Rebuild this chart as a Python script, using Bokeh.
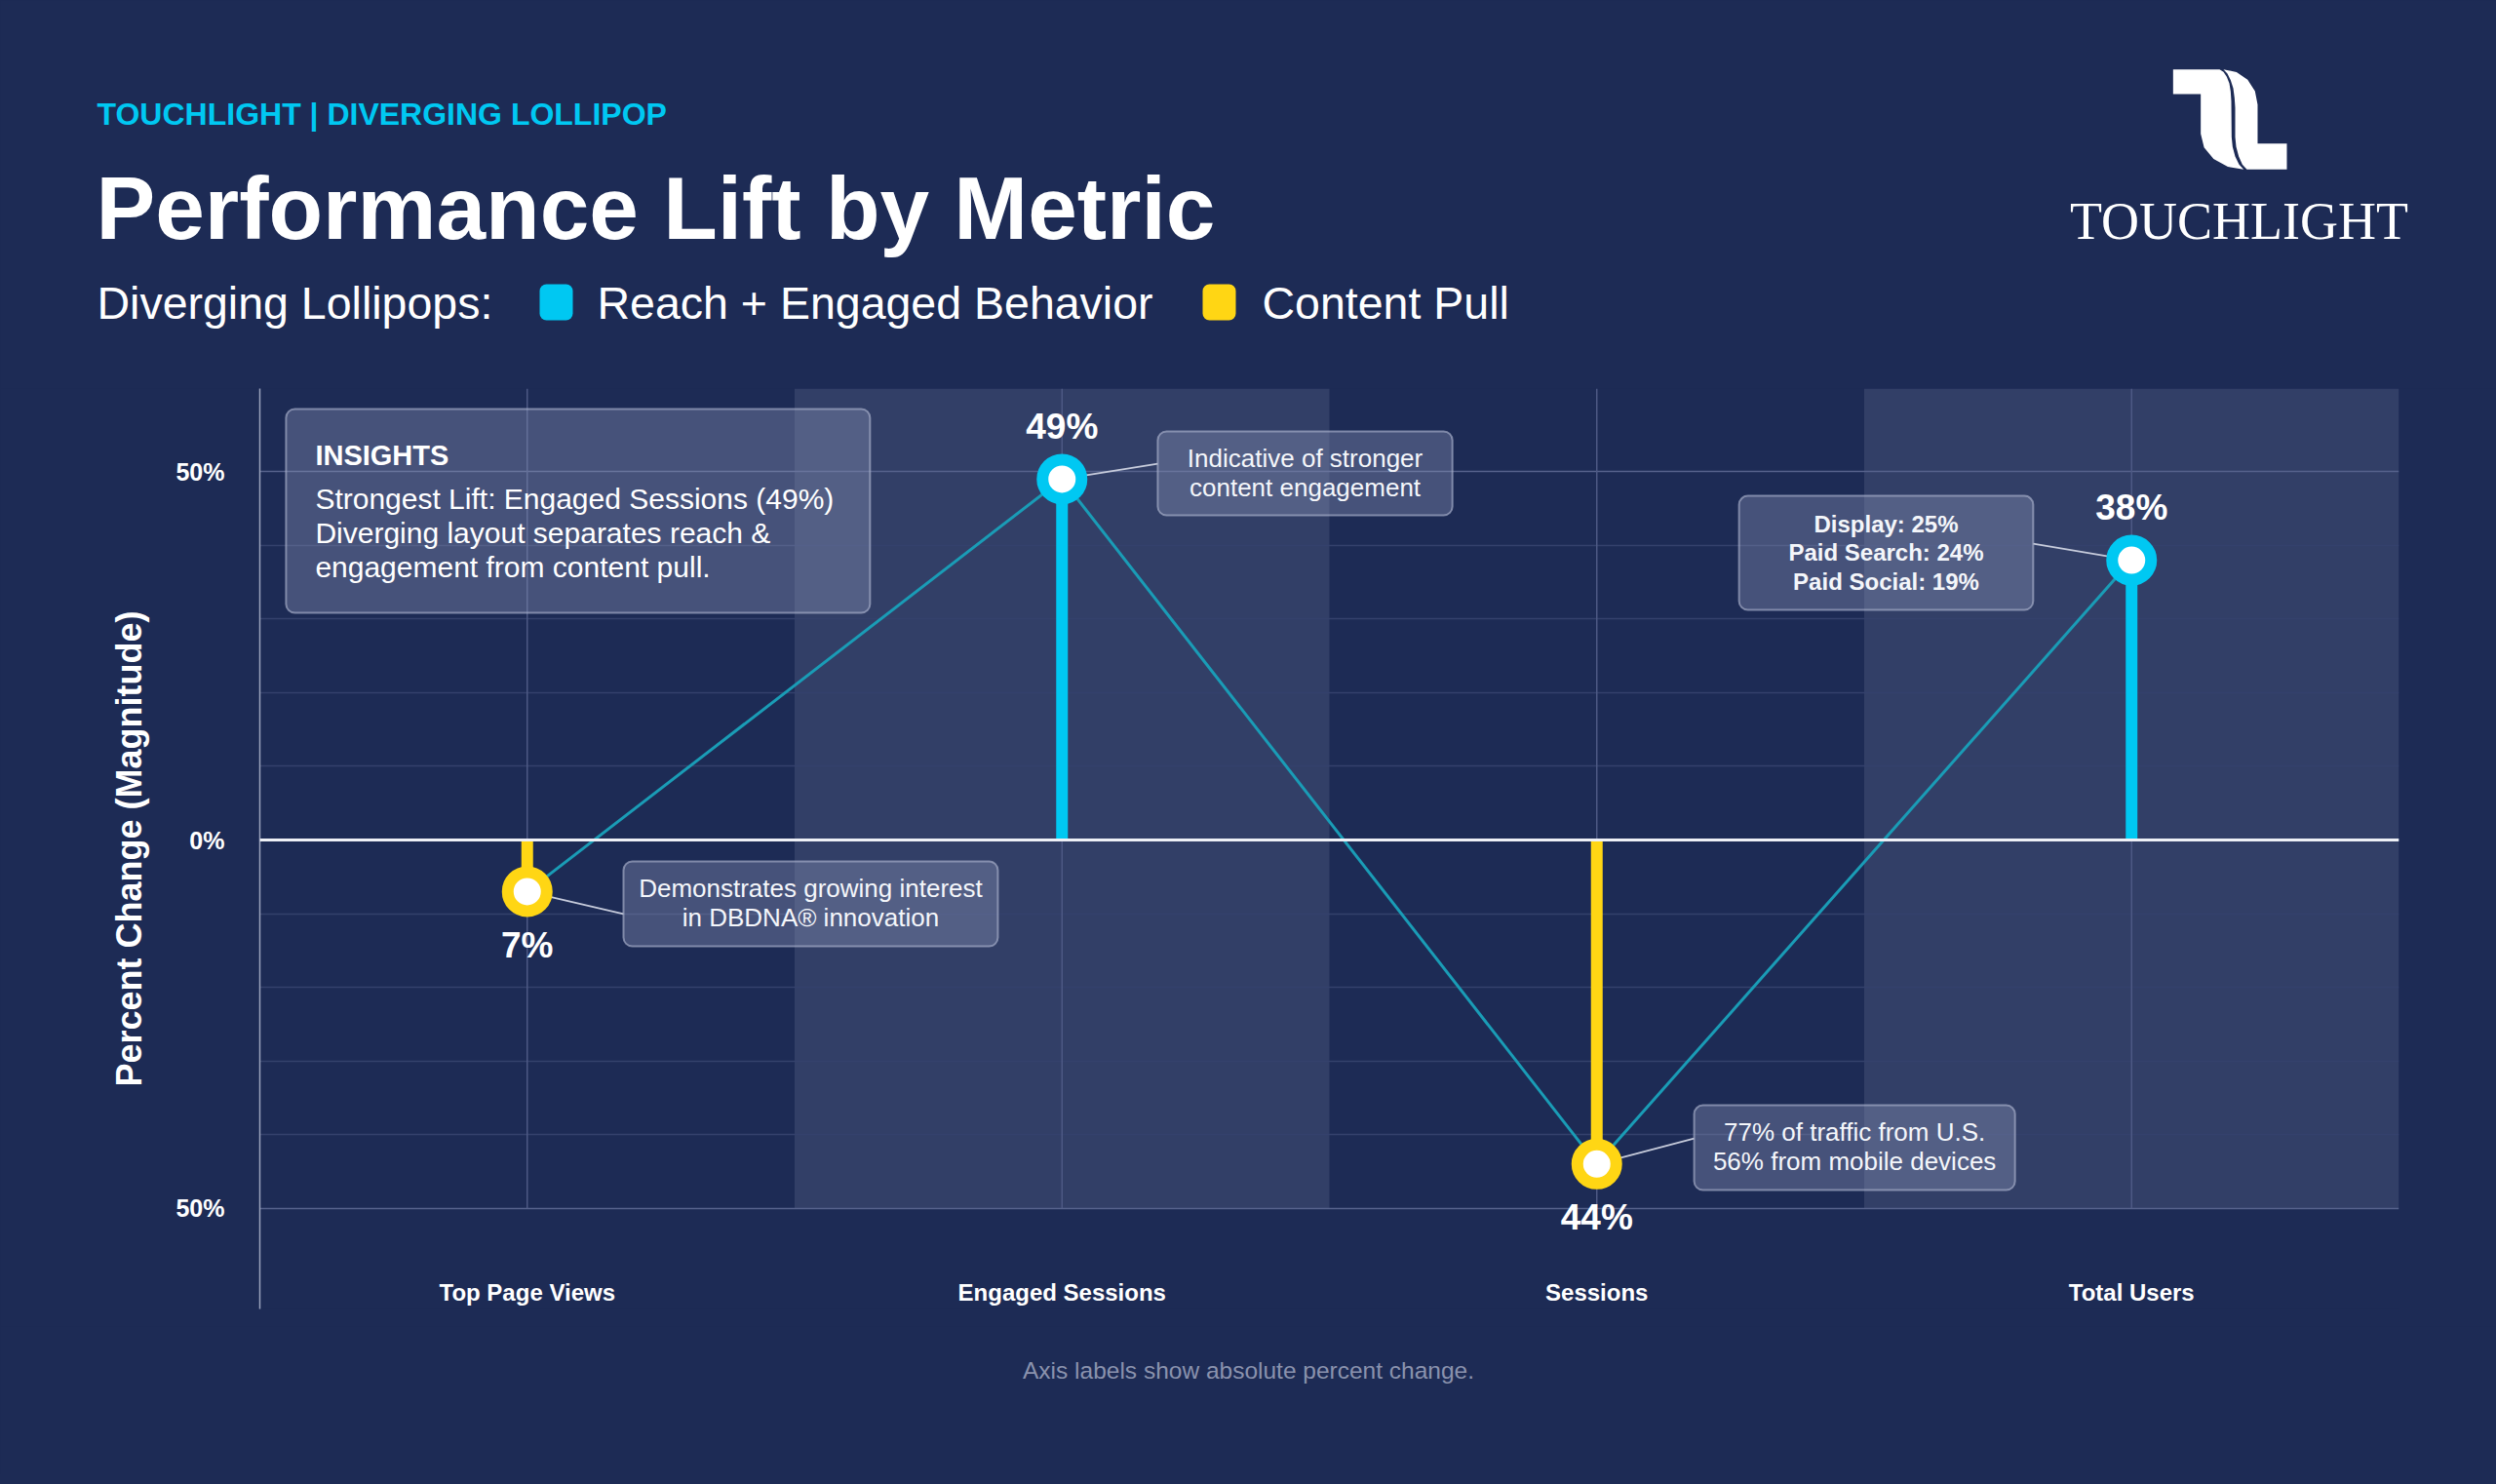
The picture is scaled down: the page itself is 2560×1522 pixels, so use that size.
import math
from bokeh.plotting import figure
from bokeh.models import Range1d, FactorRange, FixedTicker, Span
from bokeh.embed import file_html
from bokeh.resources import INLINE
from bokeh.core.properties import value

# ---------------- data ----------------
categories = ["Top Page Views", "Engaged Sessions", "Sessions", "Total Users"]
pct_change = [-7, 49, -44, 38]
series_of = ["Content Pull", "Reach + Engaged Behavior", "Content Pull", "Reach + Engaged Behavior"]
series_names = ["Reach + Engaged Behavior", "Content Pull"]
y_ticks = [-50, 0, 50]
y_tick_labels = ["50%", "0%", "50%"]
y_minor_ticks = [-40, -30, -20, -10, 10, 20, 30, 40]

kicker = "TOUCHLIGHT | DIVERGING LOLLIPOP"
title_text = "Performance Lift by Metric"
legend_lead = "Diverging Lollipops:"
y_axis_title = "Percent Change (Magnitude)"
footnote = "Axis labels show absolute percent change."
brand = "TOUCHLIGHT"

insight_title = "INSIGHTS"
insight_lines = ["Strongest Lift: Engaged Sessions (49%)",
                 "Diverging layout separates reach &",
                 "engagement from content pull."]
callout_anchor = ["Engaged Sessions", "Total Users", "Top Page Views", "Sessions"]
callout_lines = [["Indicative of stronger", "content engagement"],
                 ["Display: 25%", "Paid Search: 24%", "Paid Social: 19%"],
                 ["Demonstrates growing interest", "in DBDNA\u00ae innovation"],
                 ["77% of traffic from U.S.", "56% from mobile devices"]]

# ---------------- style / layout ----------------
BG = "#1d2b55"
BAND = "#323f67"
CYAN = "#00c8f2"
YELLOW = "#ffd614"
TEAL = "#1a9cb6"
WHITE = "#ffffff"
FONT = "Liberation Sans"
SERIF = "Liberation Serif"
SERIES_COLORS = {"Reach + Engaged Behavior": CYAN, "Content Pull": YELLOW}
MID = 0.35  # baseline -> middle shift, in em

W = 2560
HDR_H = 398
CH_TOP, CH_BOTTOM = 398, 1360
FTR_BOTTOM = 1512

Y_MIN, Y_MAX = -63.69, 61.31
BAND_BOTTOM = -50
CAT_LABEL_Y = -61.4

CALLOUT_BOX = [(1.679, 2.230, 55.48, 44.09),
               (2.766, 3.316, 46.74, 31.25),
               (0.680, 1.380, -2.91, -14.43),
               (2.682, 3.282, -36.02, -47.54)]
CALLOUT_BOLD = [False, True, False, False]
CALLOUT_SIZE = [26, 24, 26, 26]
CALLOUT_FIRST, CALLOUT_STEP = 37, 29.5
LEADER_END = [(1.679, 51.1), (3.316, 40.25), (0.680, -10.06), (2.682, -40.52)]
INSIGHT_BOX = (0.049, 1.141, 58.53, 30.85)

BOX_FILL = "#8a94b8"
BOX_ALPHA = 0.38
BOX_LINE = "#aab2cc"


def mid(baseline, size):
    return baseline - MID * size


def rquad(fig, radius, **kw):
    try:
        return fig.quad(border_radius=radius, **kw)
    except Exception:
        return fig.quad(**kw)


def base_fig(w, h, xr, yr):
    f = figure(width=w, height=h, x_range=xr, y_range=yr, output_backend="svg",
               toolbar_location=None, min_border=0, x_axis_location=None,
               y_axis_location=None, background_fill_color=BG,
               border_fill_color=BG, outline_line_color=None)
    f.grid.visible = False
    return f


def ptext(fig, x, y, text, size, color=WHITE, bold=False, font=FONT, align="left", **kw):
    return fig.text(x=x, y=y, text=text, text_font=value(font),
                    text_font_style="bold" if bold else "normal",
                    text_font_size=f"{size}px", text_color=color, text_align=align,
                    text_baseline="middle", **kw)


# ---------------- header ----------------
hdr = base_fig(W, HDR_H, Range1d(0, W), Range1d(HDR_H, 0))
ptext(hdr, [99], [mid(128, 32)], [kicker], 32, color=CYAN, bold=True)
ptext(hdr, [98], [mid(245, 91)], [title_text], 91, bold=True)
ptext(hdr, [99], [mid(327, 46)], [legend_lead], 46.5)
LEG_SQ_X = [553, 1233]
LEG_TX_X = [612, 1294]
for name, sx, tx in zip(series_names, LEG_SQ_X, LEG_TX_X):
    rquad(hdr, 7, left=[sx], right=[sx + 34], top=[291], bottom=[328],
          fill_color=SERIES_COLORS[name], line_color=None)
    ptext(hdr, [tx], [mid(327, 46)], [name], 46.5)

# logo mark (outline in 3x local units)
LOGO_X0, LOGO_Y0, LOGO_S = 2080, 40, 1 / 3.0
left_piece = [(445, 92), (588, 92), (600, 100), (610, 115), (618, 135), (622, 160), (624, 190),
              (625, 300), (628, 330), (636, 360), (648, 385), (662, 400)]
for t in [112.5, 135, 157.5, 180]:
    r = math.radians(t)
    left_piece.append((665 + 135 * math.cos(r), 290 + 110 * math.sin(r)))
left_piece += [(530, 168), (445, 168)]
right_piece = [(600, 92), (612, 105), (622, 125), (630, 150), (634, 180), (636, 210),
               (636, 300), (639, 330), (647, 360), (658, 385), (672, 400), (795, 400),
               (795, 320), (705, 320), (705, 200)]
for t in [-22.5, -45, -67.5]:
    r = math.radians(t)
    right_piece.append((600 + 105 * math.cos(r), 200 + 108 * math.sin(r)))
xs = [[LOGO_X0 + px * LOGO_S for px, _ in pc] for pc in (left_piece, right_piece)]
ys = [[LOGO_Y0 + py * LOGO_S for _, py in pc] for pc in (left_piece, right_piece)]
hdr.patches(xs=xs, ys=ys, fill_color=WHITE, line_color=None)
ptext(hdr, [2296], [mid(245, 54)], [brand], 54, font=SERIF, align="center")

# ---------------- chart ----------------
p = figure(width=W, height=CH_BOTTOM - CH_TOP, x_range=FactorRange(factors=categories),
           y_range=Range1d(Y_MIN, Y_MAX), output_backend="svg", toolbar_location=None,
           min_border_left=266, min_border_right=100, min_border_top=0, min_border_bottom=18,
           x_axis_location=None, background_fill_color=BG, border_fill_color=BG,
           outline_line_color=None)

tk = FixedTicker(ticks=y_ticks, minor_ticks=y_minor_ticks)
p.yaxis.ticker = tk
p.yaxis.major_label_overrides = dict(zip(y_ticks, y_tick_labels))
p.yaxis.axis_line_color = "#9aa2bd"
p.yaxis.axis_line_width = 1.5
p.yaxis.major_tick_line_color = None
p.yaxis.minor_tick_line_color = None
p.yaxis.major_tick_out = 0
p.yaxis.major_tick_in = 0
p.yaxis.major_label_standoff = 32
p.yaxis.major_label_text_font = FONT
p.yaxis.major_label_text_font_style = "bold"
p.yaxis.major_label_text_font_size = "25px"
p.yaxis.major_label_text_color = WHITE
p.yaxis.axis_label = y_axis_title
p.yaxis.axis_label_text_font = FONT
p.yaxis.axis_label_text_font_style = "bold"
p.yaxis.axis_label_text_font_size = "36px"
p.yaxis.axis_label_text_color = WHITE
p.yaxis.axis_label_standoff = 24

p.ygrid.ticker = tk
p.ygrid.grid_line_color = "#56628c"
p.ygrid.grid_line_width = 1.5
p.ygrid.minor_grid_line_color = "#34416c"
p.ygrid.minor_grid_line_width = 1.5
p.xgrid.visible = False

# alternating bands
band_cats = categories[1::2]
bands = p.vbar(x=band_cats, width=1.0, top=Y_MAX, bottom=BAND_BOTTOM,
               fill_color=BAND, line_color=None)
bands.level = "image"

# vertical guides at categories
p.segment(x0=categories, y0=[BAND_BOTTOM] * len(categories), x1=categories,
          y1=[Y_MAX] * len(categories), line_color="#4d5984", line_width=1.5)

colors = [SERIES_COLORS[s] for s in series_of]

# stems
p.segment(x0=categories, y0=[0] * len(categories), x1=categories, y1=pct_change,
          line_color=colors, line_width=12)

# zero line
p.add_layout(Span(location=0, dimension="width", line_color="#eef0f6", line_width=3))

# connecting line
p.line(x=categories, y=pct_change, line_color=TEAL, line_width=3)

# leader lines
val_of = dict(zip(categories, pct_change))
p.segment(x0=callout_anchor, y0=[val_of[c] for c in callout_anchor],
          x1=[e[0] for e in LEADER_END], y1=[e[1] for e in LEADER_END],
          line_color="#c6cbdb", line_width=1.8)

# lollipop heads
p.scatter(x=categories, y=pct_change, size=40, fill_color=WHITE, line_color=colors,
          line_width=12)

# value labels
ptext(p, categories, pct_change, [f"{abs(v)}%" for v in pct_change], 37, bold=True,
      align="center", y_offset=[mid(-41, 37) if v > 0 else mid(68, 37) for v in pct_change])

# category labels
ptext(p, categories, [CAT_LABEL_Y] * len(categories), categories, 24, bold=True,
      align="center")

# callout boxes
rquad(p, 9, left=[b[0] for b in CALLOUT_BOX] + [INSIGHT_BOX[0]],
      right=[b[1] for b in CALLOUT_BOX] + [INSIGHT_BOX[1]],
      top=[b[2] for b in CALLOUT_BOX] + [INSIGHT_BOX[2]],
      bottom=[b[3] for b in CALLOUT_BOX] + [INSIGHT_BOX[3]],
      fill_color=BOX_FILL, fill_alpha=BOX_ALPHA, line_color=BOX_LINE, line_alpha=0.65,
      line_width=2)

for box, lines, bold, size in zip(CALLOUT_BOX, callout_lines, CALLOUT_BOLD, CALLOUT_SIZE):
    cx = (box[0] + box[1]) / 2
    ptext(p, [cx] * len(lines), [box[2]] * len(lines), lines, size, color="#f4f6fa",
          bold=bold, align="center",
          y_offset=[mid(CALLOUT_FIRST + CALLOUT_STEP * j, size) for j in range(len(lines))])

ptext(p, [INSIGHT_BOX[0]], [INSIGHT_BOX[2]], [insight_title], 29, bold=True,
      x_offset=30, y_offset=mid(58, 29))
ptext(p, [INSIGHT_BOX[0]] * len(insight_lines), [INSIGHT_BOX[2]] * len(insight_lines),
      insight_lines, 30, x_offset=30,
      y_offset=[mid(103 + 35 * j, 30) for j in range(len(insight_lines))])

# ---------------- footer ----------------
ftr = base_fig(W, FTR_BOTTOM - CH_BOTTOM, Range1d(0, W), Range1d(FTR_BOTTOM, CH_BOTTOM))
ptext(ftr, [1280], [mid(1414, 24.5)], [footnote], 24.5, color="#8a92ad", align="center")

html = file_html([hdr, p, ftr], INLINE, title=title_text)
html = html.replace("<head>", "<head><style>html, body { background-color: #1d2b55; }</style>", 1)
open("out.html", "w").write(html)
